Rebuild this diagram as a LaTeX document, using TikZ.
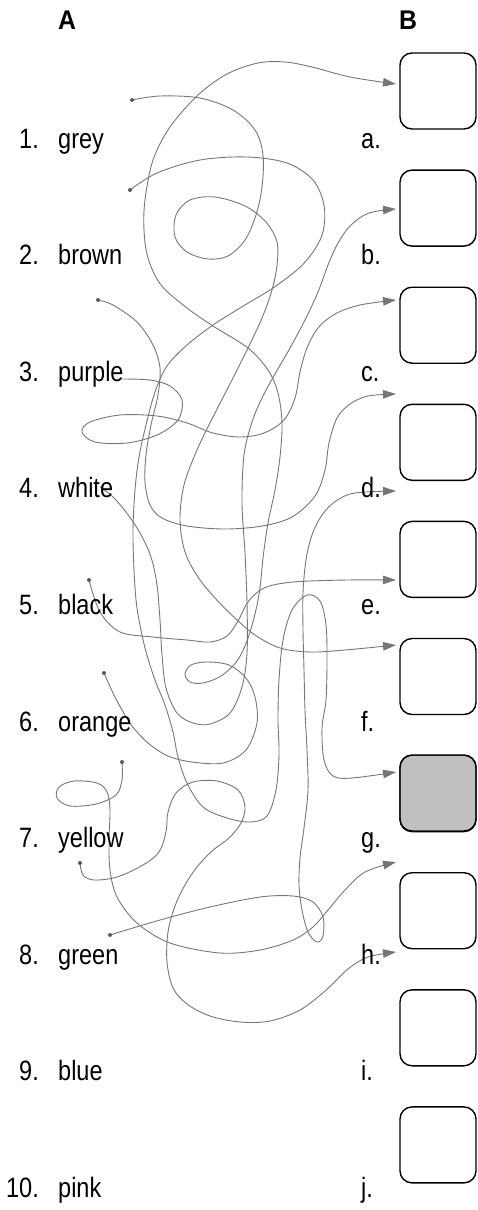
\documentclass[tikz,border=0pt]{standalone}
\usepackage{fontspec}
\setmainfont{Liberation Sans}
\newfontfamily\labfont{Liberation Sans}[FakeStretch=0.84]
\newfontfamily\headfont{Liberation Sans Bold}[FakeStretch=0.92]
\usetikzlibrary{arrows.meta}
\definecolor{wirec}{RGB}{118,118,118}
\definecolor{dotc}{RGB}{90,90,90}
\definecolor{boxfill}{RGB}{192,192,192}
\begin{document}
\begin{tikzpicture}[x=1pt,y=-1pt,
  wire/.style={line width=0.9pt, draw=wirec, -{Triangle[length=13pt,width=8.5pt,fill=wirec]}},
  startdot/.style={fill=dotc},
  ansbox/.style={draw=black, line width=1.4pt, rounded corners=12pt},
  lab/.style={inner sep=0pt, font=\labfont\fontsize{28}{30}\selectfont},
  head/.style={inner sep=0pt, font=\headfont\fontsize{27}{30}\selectfont}]
\useasboundingbox (0,0) rectangle (478,1210);

% headers
\node[head, anchor=base] (hA) at (67,29) {A};
\node[head, anchor=base] (hB) at (408,29) {B};

% boxes
\foreach \i/\t in {1/a,2/b,3/c,4/d,5/e,6/f,7/g,8/h,9/i,10/j}{
  \pgfmathsetmacro{\top}{53+117.1*(\i-1)}
  \draw[ansbox] (400,\top) rectangle (476,\top+76);
  \coordinate (box\t) at (438,\top+38);
}
\fill[boxfill, rounded corners=12pt] (400.7,755.7) rectangle (475.3,830.3);
\draw[ansbox] (400,755) rectangle (476,831);

% start points and arrow ends
\coordinate (s1) at (132,100);
\coordinate (s2) at (130,190);
\coordinate (s3) at (98,300);
\coordinate (s4) at (121,379);
\coordinate (s5) at (100,487);
\coordinate (s6) at (89,580);
\coordinate (s7) at (104,673);
\coordinate (s8) at (122,762);
\coordinate (s9) at (80,863);
\coordinate (s10) at (110,935);

\coordinate (e1) at (396,84);
\coordinate (e2) at (396,209);
\coordinate (e3) at (396,300);
\coordinate (e4) at (396,394);
\coordinate (e5) at (396,491);
\coordinate (e6) at (396,580);
\coordinate (e7) at (396,645);
\coordinate (e8) at (396,772);
\coordinate (e9) at (396,862);
\coordinate (e10) at (396,952);

% 1 grey -> f
\draw[wire] plot[smooth, tension=0.55] coordinates {(s1) (160,96) (200,98) (233,110) (255,130) (263,155) (262,187) (256,215) (245,240) (228,256) (208,259) (187,252) (175,237) (176,215) (190,200) (215,197) (245,206) (266,222) (277,242) (277,265) (272,290) (262,318) (248,348) (232,380) (214,415) (197,450) (184,485) (180,520) (185,552) (198,577) (215,598) (235,618) (255,635) (280,648) (310,652) (345,650) (e7)};
% 2 brown -> g
\draw[wire] plot[smooth, tension=0.55] coordinates {(s2) (157,173) (200,160) (247,157) (287,163) (313,180) (324,205) (323,232) (313,252) (298,269) (273,288) (240,308) (213,325) (187,345) (167,366) (155,392) (146,425) (139,457) (135,490) (133,530) (134,570) (137,608) (145,648) (155,680) (165,705) (173,732) (178,757) (187,783) (203,807) (227,818) (250,822) (267,816) (276,790) (279,755) (278,720) (279,680) (283,640) (292,610) (307,595) (320,601) (326,625) (327,660) (326,700) (322,728) (324,760) (333,776) (352,778) (e8)};
% 3 -> between c and d
\draw[wire] plot[smooth, tension=0.55] coordinates {(s3) (113,305) (137,322) (153,345) (160,368) (158,395) (151,425) (146,455) (145,482) (150,505) (162,518) (187,526) (225,529) (262,526) (292,517) (315,496) (325,470) (329,443) (337,418) (350,404) (368,396) (e4)};
% 4 purple -> c
\draw[wire] plot[smooth, tension=0.55] coordinates {(s4) (150,380) (170,386) (182,400) (178,420) (157,435) (127,443) (95,442) (82,432) (90,422) (120,415) (157,416) (187,423) (213,433) (240,437) (264,433) (284,420) (295,398) (300,372) (307,348) (318,328) (335,314) (360,305) (e3)};
% 5 white -> b
\draw[wire] plot[smooth, tension=0.55] coordinates {(s5) (112,496) (126,512) (140,533) (151,557) (157,585) (160,620) (162,655) (166,688) (177,713) (193,723) (210,724) (230,713) (242,687) (247,653) (247,603) (245,553) (242,503) (244,455) (252,422) (262,398) (275,374) (290,348) (305,320) (318,292) (328,265) (338,243) (351,225) (369,213) (e2)};
% 6 black -> e
\draw[wire] plot[smooth, tension=0.55] coordinates {(s6) (100,612) (120,632) (153,637) (187,640) (210,642) (227,636) (238,621) (248,602) (264,588) (293,582) (347,580) (e6)};
% 7 orange -> a
\draw[wire] plot[smooth, tension=0.55] coordinates {(s7) (113,693) (122,710) (132,726) (148,743) (168,756) (192,762) (223,763) (246,750) (257,723) (255,697) (246,678) (229,665) (207,662) (191,665) (185,674) (190,682) (203,683) (221,676) (237,661) (247,641) (255,614) (260,588) (263,558) (268,523) (275,490) (280,457) (282,423) (278,393) (268,370) (248,348) (213,326) (187,308) (161,285) (148,258) (144,230) (145,200) (153,160) (170,127) (198,95) (227,74) (258,63) (285,62) (312,67) (350,77) (e1)};
% 8 yellow -> between g and h
\draw[wire] plot[smooth, tension=0.55] coordinates {(s8) (122,780) (116,795) (96,804) (70,806) (57,798) (59,787) (74,781) (97,783) (107,792) (110,810) (109,840) (110,870) (117,897) (137,923) (170,943) (220,953) (260,950) (293,940) (313,927) (328,910) (345,890) (365,872) (e9)};
% 9 -> h
\draw[wire] plot[smooth, tension=0.55] coordinates {(s9) (83,875) (94,880) (117,877) (143,865) (159,852) (166,832) (168,812) (176,793) (193,782) (217,781) (238,790) (245,807) (241,823) (229,838) (212,851) (197,867) (185,885) (175,906) (168,932) (167,962) (173,988) (187,1004) (210,1016) (240,1022) (270,1021) (300,1010) (325,991) (348,969) (368,957) (e10)};
% 10 green -> d
\draw[wire] plot[smooth, tension=0.55] coordinates {(s10) (160,920) (210,907) (260,897) (293,896) (313,902) (323,917) (323,936) (317,942) (308,932) (302,910) (299,885) (300,858) (304,828) (308,790) (307,750) (305,710) (304,670) (303,630) (303,593) (306,560) (312,535) (322,515) (336,501) (355,493) (e5)};

% start dots
\foreach \p in {s1,s2,s3,s6,s7,s8,s9,s10}{
  \fill[startdot] (\p) circle[radius=2pt];
}

% left labels
\foreach \i/\w in {1/grey,2/brown,3/purple,4/white,5/black,6/orange,7/yellow,8/green,9/blue,10/pink}{
  \pgfmathsetmacro{\yb}{148+116.6*(\i-1)}
  \node[lab, anchor=base east] (num\i) at (39,\yb) {\i.};
  \node[lab, anchor=base west] (word\i) at (58,\yb) {\w};
}
% right letters
\foreach \i/\t in {1/a,2/b,3/c,4/d,5/e,6/f,7/g,8/h,9/i,10/j}{
  \pgfmathsetmacro{\yb}{148+116.6*(\i-1)}
  \node[lab, anchor=base west] (let\t) at (361,\yb) {\t.};
}
\end{tikzpicture}
\end{document}
